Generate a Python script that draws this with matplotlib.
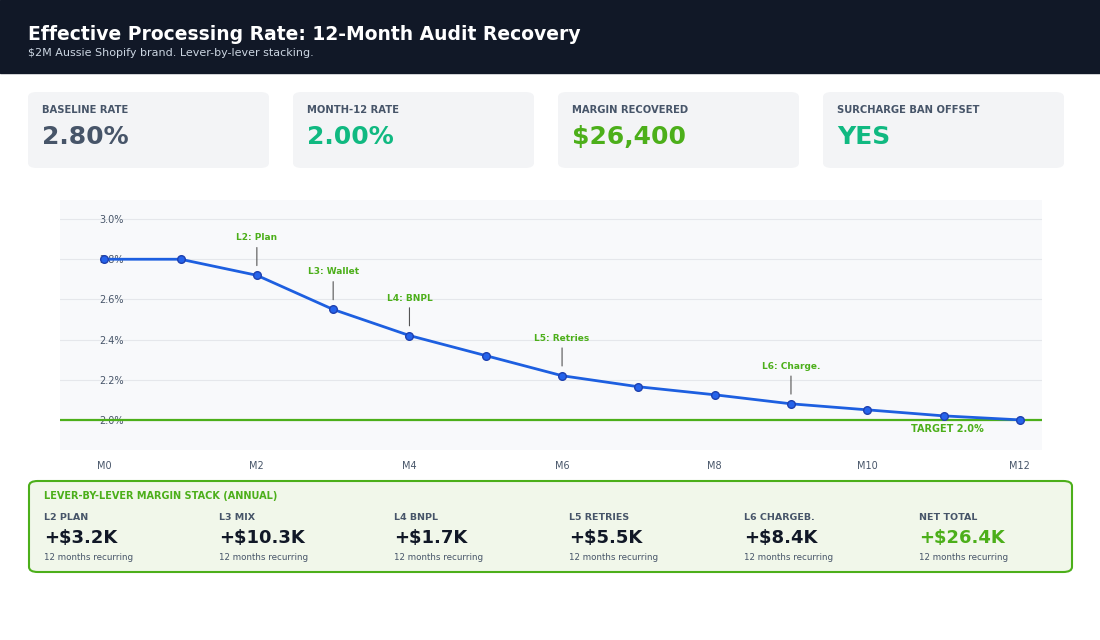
import matplotlib
matplotlib.use("Agg")
import matplotlib.pyplot as plt
from matplotlib.patches import FancyBboxPatch, Rectangle

months = list(range(13))
rates = [2.80, 2.80, 2.72, 2.55, 2.42, 2.32, 2.22, 2.165, 2.125, 2.08, 2.05, 2.02, 2.00]
xtick_labels = ["M0", "M2", "M4", "M6", "M8", "M10", "M12"]
ann_months = [2, 3, 4, 6, 9]
ann_labels = ["L2: Plan", "L3: Wallet", "L4: BNPL", "L5: Retries", "L6: Charge."]
kpi_titles = ["BASELINE RATE", "MONTH-12 RATE", "MARGIN RECOVERED", "SURCHARGE BAN OFFSET"]
kpi_values = ["2.80%", "2.00%", "$26,400", "YES"]
kpi_colors = ["#475569", "#10b981", "#4caf1a", "#10b981"]
stack_titles = ["L2 PLAN", "L3 MIX", "L4 BNPL", "L5 RETRIES", "L6 CHARGEB.", "NET TOTAL"]
stack_values = ["+$3.2K", "+$10.3K", "+$1.7K", "+$5.5K", "+$8.4K", "+$26.4K"]
target = 2.0

W, H = 1100, 640
fig = plt.figure(figsize=(11, 6.4), dpi=100)
fig.patch.set_facecolor("white")

def fx(x): return x / W
def fy(y): return 1 - y / H

# header
fig.patches.append(Rectangle((0, fy(73)), 1, 73 / H, transform=fig.transFigure, color="#111827", zorder=0))
fig.text(fx(28), fy(34), "Effective Processing Rate: 12-Month Audit Recovery", color="white",
         fontsize=13.5, fontweight="bold", va="center")
fig.text(fx(28), fy(53), "$2M Aussie Shopify brand. Lever-by-lever stacking.", color="#cbd5e1",
         fontsize=8, va="center")

# KPI cards
for i, (t, v, c) in enumerate(zip(kpi_titles, kpi_values, kpi_colors)):
    x0 = 28 + i * 265
    fig.patches.append(FancyBboxPatch((fx(x0), fy(168)), 241 / W, 76 / H, transform=fig.transFigure,
                                      boxstyle="round,pad=0,rounding_size=0.008", fc="#f3f4f6", ec="none"))
    fig.text(fx(x0 + 14), fy(110), t, fontsize=7.2, fontweight="bold", color="#475569", va="center")
    fig.text(fx(x0 + 14), fy(137), v, fontsize=18, fontweight="bold", color=c, va="center")

# chart
ax = fig.add_axes([fx(60), fy(450), (1042 - 60) / W, (450 - 200) / H])
ax.set_facecolor("#f8f9fb")
for s in ax.spines.values():
    s.set_visible(False)
ax.set_xlim(-0.58, 12.29)
ax.set_ylim(1.85, 3.095)
ax.set_yticks([2.0, 2.2, 2.4, 2.6, 2.8, 3.0])
ax.set_yticklabels(["2.0%", "2.2%", "2.4%", "2.6%", "2.8%", "3.0%"])
ax.tick_params(axis="y", direction="in", pad=-28, length=0, labelsize=7, labelcolor="#475569")
for lab in ax.get_yticklabels():
    lab.set_horizontalalignment("left")
ax.grid(axis="y", color="#e5e7eb", lw=0.8)
ax.set_axisbelow(True)
ax.set_xticks(range(0, 13, 2))
ax.set_xticklabels(xtick_labels)
ax.tick_params(axis="x", length=0, labelsize=7, labelcolor="#475569", pad=8)
ax.axhline(target, color="#4caf1a", lw=1.6, zorder=2)
ax.text(11.05, target - 0.045, "TARGET 2.0%", color="#4caf1a", fontsize=7, fontweight="bold",
        ha="center", va="center")
ax.plot(months, rates, color="#1d5fe0", lw=2, marker="o", ms=5.5, mfc="#2563eb",
        mec="#1e40af", zorder=3)
for m, lab in zip(ann_months, ann_labels):
    ax.annotate("", xy=(m, rates[m]), xytext=(0, 20), textcoords="offset points",
                arrowprops=dict(arrowstyle="-", color="#555", lw=0.8, shrinkA=0, shrinkB=7))
    ax.annotate(lab, xy=(m, rates[m]), xytext=(0, 27), textcoords="offset points",
                ha="center", va="center", fontsize=6.5, fontweight="bold", color="#4caf1a")

# bottom stack box
fig.patches.append(FancyBboxPatch((fx(29), fy(572)), (1072 - 29) / W, 91 / H, transform=fig.transFigure,
                                  boxstyle="round,pad=0,rounding_size=0.008", fc="#f1f7ea",
                                  ec="#4caf1a", lw=1.5))
fig.text(fx(44), fy(496), "LEVER-BY-LEVER MARGIN STACK (ANNUAL)", fontsize=7, fontweight="bold",
         color="#4caf1a", va="center")
for i, (t, v) in enumerate(zip(stack_titles, stack_values)):
    x0 = 44 + i * 175
    fig.text(fx(x0), fy(518), t, fontsize=6.8, fontweight="bold", color="#475569", va="center")
    fig.text(fx(x0), fy(538), v, fontsize=13, fontweight="bold",
             color="#4caf1a" if i == 5 else "#111827", va="center")
    fig.text(fx(x0), fy(557), "12 months recurring", fontsize=6.3, color="#475569", va="center")

fig.savefig("out.png", dpi=100)
